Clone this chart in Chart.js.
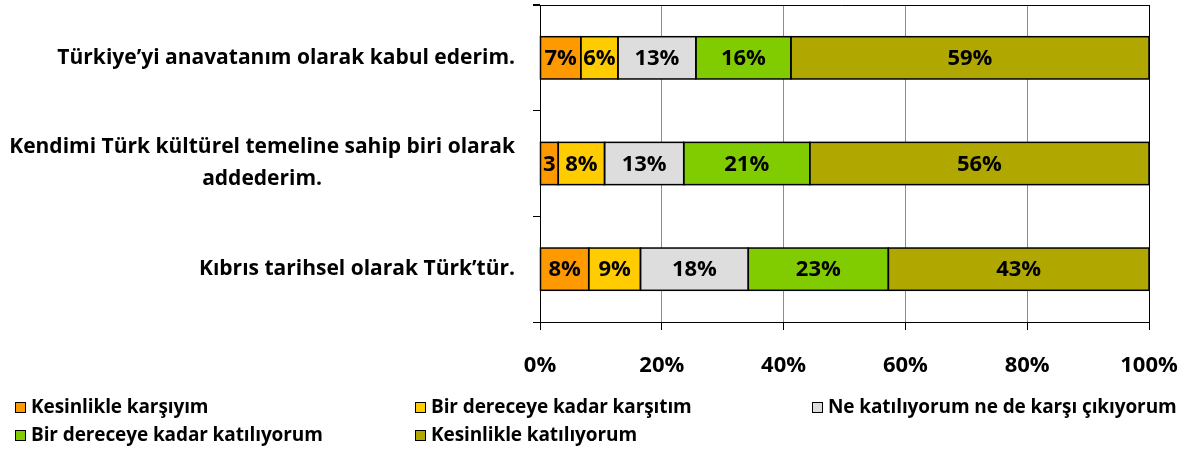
<!DOCTYPE html>
<html><head><meta charset="utf-8">
<script src="https://cdn.jsdelivr.net/npm/chart.js@4/dist/chart.umd.min.js"></script>
<style>
html,body{margin:0;padding:0;background:#fff;}
#wrap{position:relative;width:1196px;height:450px;overflow:hidden;}
#c{position:absolute;left:0;top:0;}
.leg{position:absolute;font-family:'Open Sans',sans-serif;font-weight:bold;font-size:19px;color:#000;white-space:nowrap;line-height:22px;letter-spacing:-0.1px;}
.leg i{display:inline-block;width:9px;height:9px;border:1.5px solid #000;margin-right:5px;vertical-align:0px;}
</style>
</head><body>
<div id="wrap"><canvas id="c" width="1196" height="450"></canvas></div>
<script>
const categories = [
  'Türkiye’yi anavatanım olarak kabul ederim.',
  ['Kendimi Türk kültürel temeline sahip biri olarak', 'addederim.'],
  'Kıbrıs tarihsel olarak Türk’tür.'
];
const seriesNames = [
  'Kesinlikle karşıyım',
  'Bir dereceye kadar karşıtım',
  'Ne katılıyorum ne de karşı çıkıyorum',
  'Bir dereceye kadar katılıyorum',
  'Kesinlikle katılıyorum'
];
const seriesColors = ['#FF9900', '#FFCC00', '#DDDDDD', '#80CC00', '#B0A800'];
const kesinlikleKarsiyim = [6.7, 3.0, 8.0];
const birDereceyeKarsitim = [6.1, 7.6, 8.5];
const neKatiliyorum = [12.8, 13.0, 17.7];
const birDereceyeKatiliyorum = [15.6, 20.7, 23.0];
const kesinlikleKatiliyorum = [58.8, 55.7, 42.8];
const xTicks = [0, 20, 40, 60, 80, 100];

const seriesValues = [kesinlikleKarsiyim, birDereceyeKarsitim, neKatiliyorum, birDereceyeKatiliyorum, kesinlikleKatiliyorum];
const FONT = "'Open Sans', sans-serif";

const overlay = {
  id: 'overlay',
  afterDatasetsDraw(chart) {
    const ctx = chart.ctx;
    ctx.save();
    ctx.strokeStyle = '#000';
    ctx.lineWidth = 1.5;
    chart.data.datasets.forEach((ds, di) => {
      const meta = chart.getDatasetMeta(di);
      meta.data.forEach(el => {
        const x0 = Math.min(el.base, el.x), x1 = Math.max(el.base, el.x);
        ctx.strokeRect(x0, el.y - el.height / 2, x1 - x0, el.height);
      });
    });
    ctx.fillStyle = '#000';
    ctx.font = 'bold 22px ' + FONT;
    ctx.textAlign = 'center';
    ctx.textBaseline = 'middle';
    chart.data.datasets.forEach((ds, di) => {
      const meta = chart.getDatasetMeta(di);
      meta.data.forEach((el, i) => {
        const v = Math.round(ds.data[i]);
        const w = Math.abs(el.x - el.base);
        let t = v + '%';
        if (ctx.measureText(t).width > w - 2) t = String(v);
        ctx.fillText(t, (el.x + el.base) / 2, el.y + 1);
      });
    });
    ctx.restore();
  },
  afterDraw(chart) {
    const ctx = chart.ctx;
    const a = chart.chartArea;
    const ys = chart.scales.y;
    ctx.save();
    ctx.strokeStyle = '#000';
    ctx.lineWidth = 1;
    ctx.beginPath();
    ctx.moveTo(a.left - 7, Math.round(a.top) + 0.5);
    ctx.lineTo(a.right + 0.5, Math.round(a.top) + 0.5);
    ctx.stroke();
    ctx.fillStyle = '#000';
    ctx.font = 'bold 21px ' + FONT;
    ctx.textAlign = 'center';
    ctx.textBaseline = 'middle';
    const rightEdge = a.left - 25;
    const lh = 32;
    categories.forEach((c, i) => {
      const lines = Array.isArray(c) ? c : [c];
      const bw = Math.max(...lines.map(l => ctx.measureText(l).width));
      const cx = rightEdge - bw / 2;
      const yc = ys.getPixelForValue(i);
      lines.forEach((l, k) => {
        ctx.fillText(l, cx, yc + (k - (lines.length - 1) / 2) * lh);
      });
    });
    ctx.restore();
  }
};

new Chart(document.getElementById('c'), {
  type: 'bar',
  data: {
    labels: categories,
    datasets: seriesNames.map((n, i) => ({
      label: n,
      data: seriesValues[i],
      backgroundColor: seriesColors[i],
      borderWidth: 0,
      barPercentage: 0.4,
      categoryPercentage: 1
    }))
  },
  options: {
    indexAxis: 'y',
    responsive: false,
    animation: false,
    devicePixelRatio: 1,
    layout: { padding: { top: 5, right: 47, left: 0, bottom: 0 } },
    plugins: { legend: { display: false }, tooltip: { enabled: false } },
    scales: {
      y: {
        stacked: true,
        position: 'left',
        afterFit: s => { s.width = 540; s.paddingTop = 0; s.paddingBottom = 0; },
        ticks: { display: false },
        grid: { offset: true, drawOnChartArea: false, drawTicks: true, tickLength: 7, color: '#000', lineWidth: 1 },
        border: { display: true, color: '#000', width: 1 }
      },
      x: {
        stacked: true,
        min: 0, max: 100,
        afterFit: s => { s.height = 128; s.paddingLeft = 0; s.paddingRight = 0; },
        afterBuildTicks: s => { s.ticks = xTicks.map(v => ({ value: v })); },
        ticks: {
          callback: v => v + '%',
          font: { family: FONT, weight: 'bold', size: 22 },
          color: '#000',
          padding: 23,
          maxRotation: 0
        },
        grid: {
          color: ctx => (ctx.tick && (ctx.tick.value === 0 || ctx.tick.value === 100)) ? '#000' : '#8c8c8c',
          tickColor: '#000',
          tickLength: 8,
          lineWidth: 1
        },
        border: { display: true, color: '#000', width: 1 }
      }
    }
  },
  plugins: [overlay]
});

const legPos = [[15, 395], [415, 395], [812, 395], [15, 423], [415, 423]];
const wrap = document.getElementById('wrap');
seriesNames.forEach((n, i) => {
  const d = document.createElement('div');
  d.className = 'leg';
  d.style.left = legPos[i][0] + 'px';
  d.style.top = legPos[i][1] + 'px';
  const b = document.createElement('i');
  b.style.background = seriesColors[i];
  d.appendChild(b);
  d.appendChild(document.createTextNode(n));
  wrap.appendChild(d);
});
</script>
</body></html>
